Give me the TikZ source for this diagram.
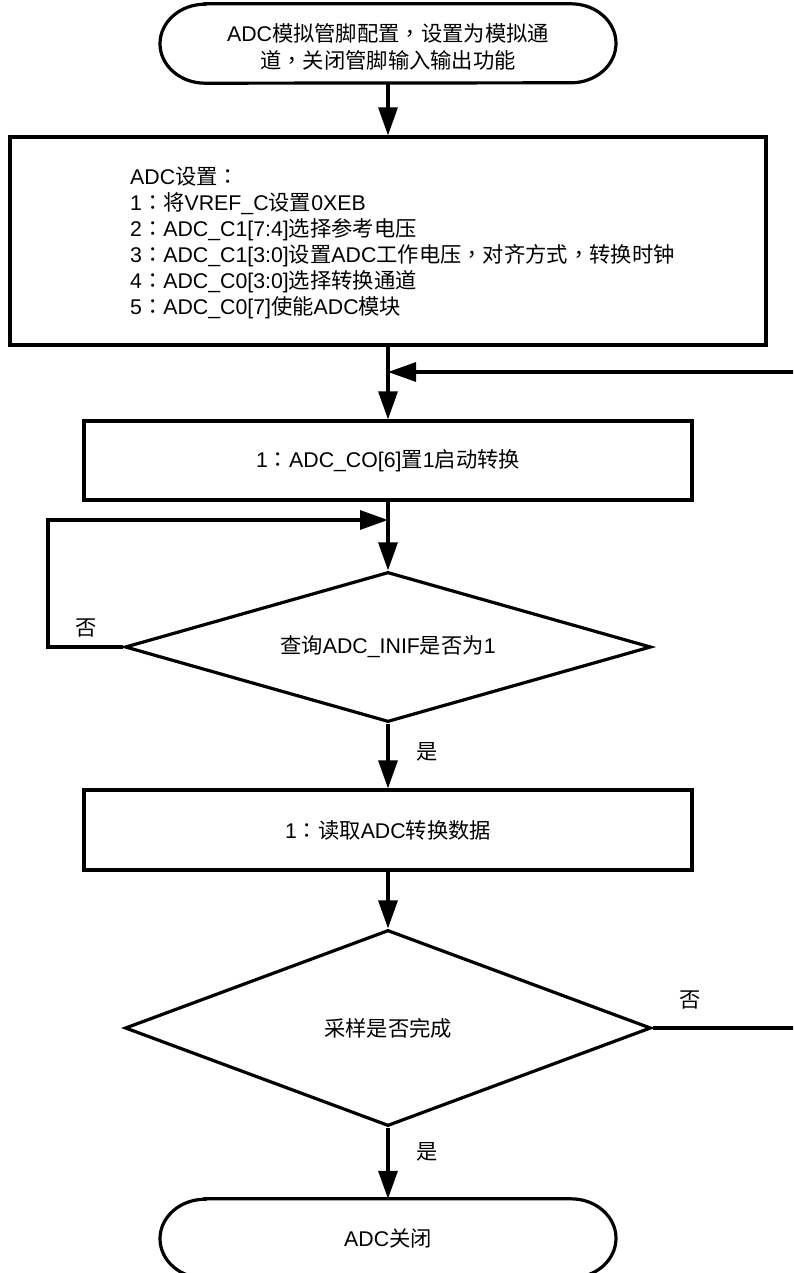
\documentclass[tikz,border=0pt]{standalone}
\usepackage{fontspec}
\setmainfont{Liberation Sans}
\newfontfamily\cjk{Noto Sans CJK SC}
\newfontfamily\cjktc{Noto Sans CJK TC}
\newcommand\zh[1]{{\cjk #1}}
\newcommand\pc[1]{{\cjktc #1}}
\usetikzlibrary{arrows.meta,shapes.geometric}
\tikzset{
  box/.style={draw, line width=3.2pt, rectangle, inner sep=0pt, align=center},
  dia/.style={draw, diamond, line width=3.2pt, inner sep=0pt, align=center},
  term/.style={rectangle, inner sep=0pt, align=center},
  flow/.style={line width=3.2pt, -{Triangle[length=28pt,width=19pt]}},
  plain/.style={line width=3.2pt},
  lbl/.style={inner sep=0pt}
}
\begin{document}
\begin{tikzpicture}[x=1pt, y=-1pt, font=\fontsize{21.3pt}{26pt}\selectfont, line join=miter]
\useasboundingbox (0,0) rectangle (793,1273);
\clip (0,0) rectangle (793,1273);

% start terminal
\node[term, minimum width=456pt, minimum height=79pt] (start) at (388,43.5) {};
\node[lbl, align=center] (starttext) at (388,47)
  {ADC\zh{模拟管脚配置}\pc{，}\zh{设置为模拟通}\\[1pt]\zh{道}\pc{，}\zh{关闭管脚输入输出功能}};
\draw[plain] ([xshift=-183pt]start.north) -- ([xshift=183pt]start.north)
  arc[start angle=90, end angle=-90, x radius=45pt, y radius=39.5pt]
  -- ([xshift=-183pt]start.south)
  arc[start angle=270, end angle=90, x radius=45pt, y radius=39.5pt] -- cycle;

% settings box
\node[box, minimum width=756pt, minimum height=208pt] (set) at (388,241) {};
\node[lbl, anchor=west, align=left] (settext) at (130,243)
  {ADC\zh{设置}\pc{：}\\
   1\pc{：}\zh{将}VREF\_C\zh{设置}0XEB\\
   2\pc{：}ADC\_C1[7:4]\zh{选择参考电压}\\
   3\pc{：}ADC\_C1[3:0]\zh{设置}ADC\zh{工作电压}\pc{，}\zh{对齐方式}\pc{，}\zh{转换时钟}\\
   4\pc{：}ADC\_C0[3:0]\zh{选择转换通道}\\
   5\pc{：}ADC\_C0[7]\zh{使能}ADC\zh{模块}};

% start conversion
\node[box, minimum width=608pt, minimum height=79pt] (conv) at (388,460.5)
  {1\pc{：}ADC\_CO[6]\zh{置}1\zh{启动转换}};

% query diamond
\node[dia, aspect=3.5, minimum width=526pt, minimum height=150pt] (q) at (388,647)
  {\zh{查询}ADC\_INIF\zh{是否为}1};

% read data
\node[box, minimum width=608pt, minimum height=80pt] (read) at (388,830)
  {1\pc{：}\zh{读取}ADC\zh{转换数据}};

% done diamond
\node[dia, aspect=2.68, minimum width=526pt, minimum height=196pt] (done) at (388,1028)
  {\zh{采样是否完成}};

% end terminal
\node[term, minimum width=456pt, minimum height=79pt] (stop) at (388,1238.5)
  {ADC\zh{关闭}};
\draw[plain] ([xshift=-183pt]stop.north) -- ([xshift=183pt]stop.north)
  arc[start angle=90, end angle=-90, x radius=45pt, y radius=39.5pt]
  -- ([xshift=-183pt]stop.south)
  arc[start angle=270, end angle=90, x radius=45pt, y radius=39.5pt] -- cycle;

% junction coordinates
\coordinate (j1) at (388,372);
\coordinate (j2) at (388,520);
\coordinate (lft) at (48,647);
\coordinate (rgt) at (800,1028);

% main flow
\draw[flow] (start.south) -- (set.north);
\draw[flow] (set.south) -- (conv.north);
\draw[flow] (conv.south) -- (q.north);
\draw[flow] (q.south) -- (read.north);
\draw[flow] (read.south) -- (done.north);
\draw[flow] (done.south) -- (stop.north);

% loops
\draw[flow] (q.west) -- (lft) |- (j2);
\draw[flow] (done.east) -- (rgt) |- (j1);

% labels
\node[lbl] (no1) at (86,628) {\zh{否}};
\node[lbl] (yes1) at (427,752) {\zh{是}};
\node[lbl] (no2) at (690,1000) {\zh{否}};
\node[lbl] (yes2) at (427,1152) {\zh{是}};
\end{tikzpicture}
\end{document}
